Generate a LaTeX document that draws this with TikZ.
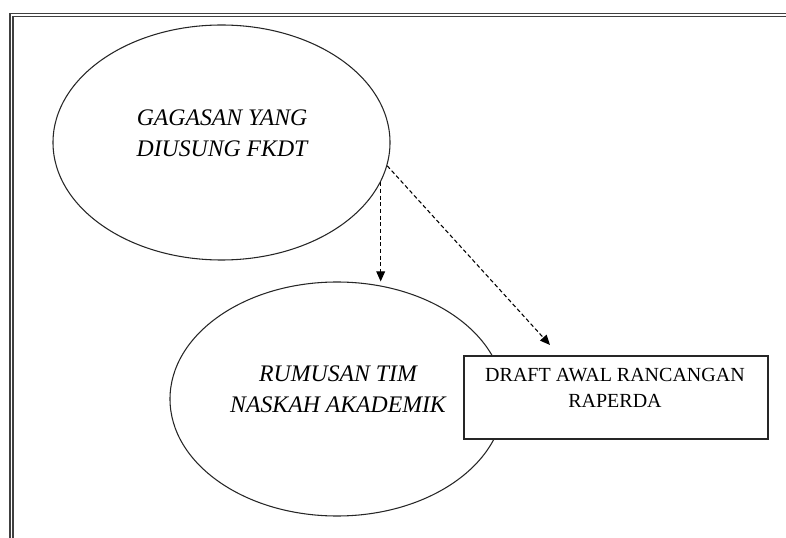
\documentclass[tikz,border=0pt]{standalone}
\usepackage{fontspec}
\setmainfont{Liberation Serif}
\usetikzlibrary{shapes.geometric,arrows.meta}
\begin{document}
\begin{tikzpicture}[x=0.75pt,y=-0.75pt,
  oval/.style={draw=black!85, ellipse, line width=0.8pt, inner sep=0pt, fill=white},
  itext/.style={font=\fontsize{17.8}{23.5}\selectfont\itshape, align=center, inner sep=0pt},
  btext/.style={font=\fontsize{15}{20}\selectfont, align=center, inner sep=0pt},
  boxstyle/.style={draw=black!85, line width=0.8pt, fill=white, rectangle, inner sep=0pt},
  dasharrow/.style={draw=black, line width=0.8pt, dash pattern=on 3pt off 2pt, -{Triangle[length=7.5pt,width=6.5pt]}},
  frame/.style={line width=1pt, draw=black!75}]
\useasboundingbox (0,0) rectangle (786,538);
\draw[frame] (10,538) -- (10,13.5) -- (786,13.5);
\draw[frame] (13,538) -- (13,16.5) -- (786,16.5);
% ellipses
\node[oval, minimum width=252.75pt, minimum height=176.25pt] (e1) at (221.5,142.5) {};
\node[itext] (t1) at (222,133) {GAGASAN YANG\\DIUSUNG FKDT};
\node[oval, minimum width=250.5pt, minimum height=175.5pt] (e2) at (337,399) {};
\node[itext] (t2) at (338,389) {RUMUSAN TIM\\NASKAH AKADEMIK};
% box
\node[boxstyle, minimum width=228pt, minimum height=62.25pt] (b) at (616,397.5) {};
\node[btext] (t3) at (615,388) {DRAFT AWAL RANCANGAN\\RAPERDA};
% arrows
\coordinate (a2end) at (550,345);
\draw[dasharrow] (e1.-14.6) -- (e1.-14.6 |- e2.north);
\draw[dasharrow] (e1.-8.4) -- (a2end);
\end{tikzpicture}
\end{document}
